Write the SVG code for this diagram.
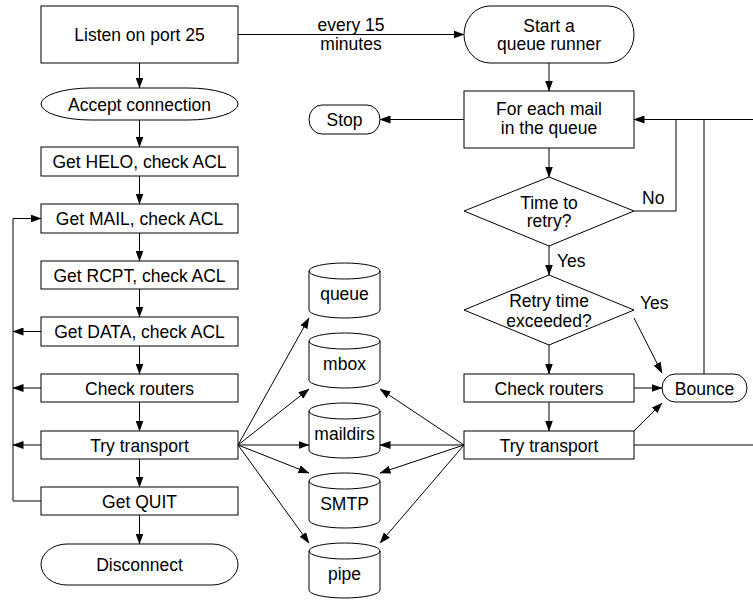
<svg xmlns="http://www.w3.org/2000/svg" width="753" height="601" viewBox="0 0 753 601">
  <style>
    .shape { fill: #fff; stroke: #000; stroke-width: 1; }
    .line { fill: none; stroke: #000; stroke-width: 1; }
    .arrow { fill: none; stroke: #000; stroke-width: 1; marker-end: url(#head); }
    text { font-family: "Liberation Sans", Arial, sans-serif; font-size: 17.5px; fill: #000; }
    .c { text-anchor: middle; }
  </style>
  <defs>
    <marker id="head" markerUnits="userSpaceOnUse" markerWidth="11" markerHeight="8" refX="10.5" refY="4" orient="auto">
      <path d="M0,0 L11,4 L0,8 z" fill="#000"/>
    </marker>
    <!-- data store drum: 71 wide, 55 tall -->
    <g id="drum">
      <path class="shape" d="M0,8 A35.5,8 0 0,1 71,8 V47 A35.5,8 0 0,1 0,47 Z"/>
      <path class="line" d="M0,8 A35.5,8 0 0,0 71,8"/>
    </g>
  </defs>

  <!-- connectors -->
  <g id="connectors">
    <!-- SMTP listener chain -->
    <path class="arrow" d="M139.5,63 V88"/>
    <path class="arrow" d="M139.5,120 V147"/>
    <path class="arrow" d="M139.5,176 V204"/>
    <path class="arrow" d="M139.5,233 V261"/>
    <path class="arrow" d="M139.5,289 V317"/>
    <path class="arrow" d="M139.5,346 V374"/>
    <path class="arrow" d="M139.5,402 V431"/>
    <path class="arrow" d="M139.5,459 V487"/>
    <path class="arrow" d="M139.5,515 V544"/>
    <!-- loop back to MAIL -->
    <path class="arrow" d="M41,501 H13 V218.5 H41"/>
    <path class="arrow" d="M41,331.5 H13"/>
    <path class="arrow" d="M41,388 H13"/>
    <path class="arrow" d="M41,445 H13"/>
    <!-- timer to queue runner -->
    <path class="arrow" d="M238,34.5 H464"/>
    <!-- listener delivery -->
    <path class="arrow" d="M238,445 L309,318"/>
    <path class="arrow" d="M238,445 L309,389"/>
    <path class="arrow" d="M238,445 H309"/>
    <path class="arrow" d="M238,445 L309,473"/>
    <path class="arrow" d="M238,445 L309,543"/>
    <!-- queue runner delivery -->
    <path class="arrow" d="M464,445 L380,389"/>
    <path class="arrow" d="M464,445 H380"/>
    <path class="arrow" d="M464,445 L380,473"/>
    <path class="arrow" d="M464,445 L380,543"/>
    <!-- queue runner chain -->
    <path class="arrow" d="M549,63 V91"/>
    <path class="arrow" d="M464,119.5 H380"/>
    <path class="arrow" d="M549,148 V177"/>
    <path class="arrow" d="M549,246 V275"/>
    <path class="arrow" d="M549,345 V374"/>
    <path class="arrow" d="M549,402 V431"/>
    <path class="line" d="M634,211 H676 V119.5"/>
    <path class="arrow" d="M753,119.5 H634"/>
    <path class="line" d="M704,119.5 V374"/>
    <path class="arrow" d="M634,318 L662,373"/>
    <path class="arrow" d="M634,388 H662"/>
    <path class="arrow" d="M634,431 L662,403"/>
    <path class="line" d="M634,445 H753"/>
  </g>

  <!-- labels on connectors -->
  <g id="labels">
    <text class="c" x="351" y="31">every 15</text>
    <text class="c" x="351" y="49.5">minutes</text>
    <text x="642" y="204">No</text>
    <text x="557" y="267">Yes</text>
    <text x="640" y="309">Yes</text>
  </g>

  <!-- left column: SMTP listener -->
  <g id="listen">
    <rect class="shape" x="41" y="6" width="197" height="57"/>
    <text class="c" x="139.5" y="41">Listen on port 25</text>
  </g>
  <g id="accept">
    <rect class="shape" x="41" y="88" width="197" height="32" rx="50" ry="16"/>
    <text class="c" x="139.5" y="110.5">Accept connection</text>
  </g>
  <g id="helo">
    <rect class="shape" x="41" y="147" width="197" height="29"/>
    <text class="c" x="139.5" y="168">Get HELO, check ACL</text>
  </g>
  <g id="mail">
    <rect class="shape" x="41" y="204" width="197" height="29"/>
    <text class="c" x="139.5" y="225">Get MAIL, check ACL</text>
  </g>
  <g id="rcpt">
    <rect class="shape" x="41" y="261" width="197" height="28"/>
    <text class="c" x="139.5" y="281.5">Get RCPT, check ACL</text>
  </g>
  <g id="data">
    <rect class="shape" x="41" y="317" width="197" height="29"/>
    <text class="c" x="139.5" y="338">Get DATA, check ACL</text>
  </g>
  <g id="routers-left">
    <rect class="shape" x="41" y="374" width="197" height="28"/>
    <text class="c" x="139.5" y="394.5">Check routers</text>
  </g>
  <g id="transport-left">
    <rect class="shape" x="41" y="431" width="197" height="28"/>
    <text class="c" x="139.5" y="451.5">Try transport</text>
  </g>
  <g id="quit">
    <rect class="shape" x="41" y="487" width="197" height="28"/>
    <text class="c" x="139.5" y="507.5">Get QUIT</text>
  </g>
  <g id="disconnect">
    <rect class="shape" x="41" y="544" width="197" height="41" rx="26" ry="20.5"/>
    <text class="c" x="139.5" y="571">Disconnect</text>
  </g>

  <!-- middle: data stores -->
  <g id="store-queue">
    <use href="#drum" x="309" y="263"/>
    <text class="c" x="344.5" y="300">queue</text>
  </g>
  <g id="store-mbox">
    <use href="#drum" x="309" y="333"/>
    <text class="c" x="344.5" y="370">mbox</text>
  </g>
  <g id="store-maildirs">
    <use href="#drum" x="309" y="403"/>
    <text class="c" x="344.5" y="440">maildirs</text>
  </g>
  <g id="store-smtp">
    <use href="#drum" x="309" y="473"/>
    <text class="c" x="344.5" y="510">SMTP</text>
  </g>
  <g id="store-pipe">
    <use href="#drum" x="309" y="543"/>
    <text class="c" x="344.5" y="580">pipe</text>
  </g>

  <!-- right column: queue runner -->
  <g id="start-runner">
    <rect class="shape" x="464" y="6" width="170" height="57" rx="26" ry="28.5"/>
    <text class="c" x="549" y="31.5">Start a</text>
    <text class="c" x="549" y="50">queue runner</text>
  </g>
  <g id="stop">
    <rect class="shape" x="309" y="105" width="71" height="29" rx="13" ry="14.5"/>
    <text class="c" x="344.5" y="126">Stop</text>
  </g>
  <g id="for-each">
    <rect class="shape" x="464" y="91" width="170" height="57"/>
    <text class="c" x="549" y="115">For each mail</text>
    <text class="c" x="549" y="134">in the queue</text>
  </g>
  <g id="time-to-retry">
    <path class="shape" d="M549,177 L634,211 L549,246 L464,211 Z"/>
    <text class="c" x="549" y="208.5">Time to</text>
    <text class="c" x="549" y="227">retry?</text>
  </g>
  <g id="retry-exceeded">
    <path class="shape" d="M549,275 L634,310 L549,345 L464,310 Z"/>
    <text class="c" x="549" y="307">Retry time</text>
    <text class="c" x="549" y="326.5">exceeded?</text>
  </g>
  <g id="routers-right">
    <rect class="shape" x="464" y="374" width="170" height="28"/>
    <text class="c" x="549" y="394.5">Check routers</text>
  </g>
  <g id="transport-right">
    <rect class="shape" x="464" y="431" width="170" height="28"/>
    <text class="c" x="549" y="451.5">Try transport</text>
  </g>
  <g id="bounce">
    <rect class="shape" x="662" y="374" width="85" height="28" rx="13" ry="14"/>
    <text class="c" x="704.5" y="394.5">Bounce</text>
  </g>
</svg>
